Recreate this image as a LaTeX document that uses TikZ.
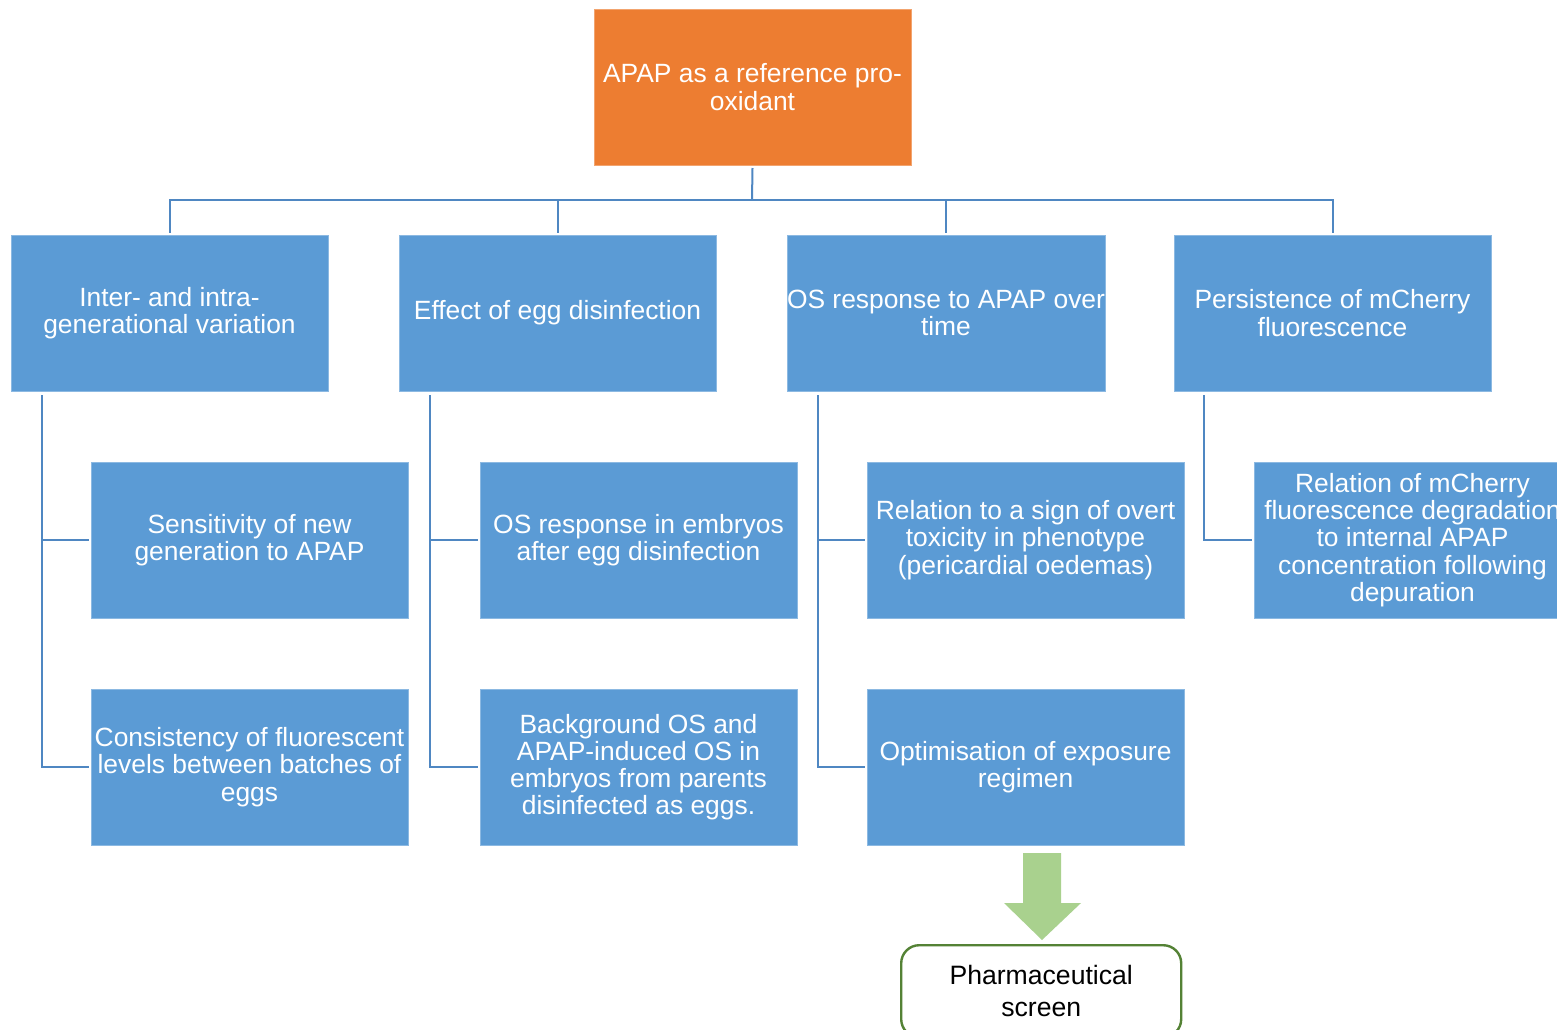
\documentclass[tikz,border=0pt]{standalone}
\usepackage{fontspec}
\setmainfont{Liberation Sans}
\definecolor{boxblue}{HTML}{5B9BD5}
\definecolor{linkblue}{HTML}{4F87C2}
\definecolor{topor}{HTML}{ED7D31}
\definecolor{arrgreen}{HTML}{A9D18E}
\definecolor{bordgreen}{HTML}{548235}
\tikzset{
  box/.style={fill=boxblue, draw=boxblue!70!white, line width=0.4pt, text=white, anchor=north west,
    minimum width=158.5pt, minimum height=78pt, inner sep=0pt, outer sep=0pt, align=center,
    font=\fontsize{13.2pt}{13.6pt}\selectfont},
  conn/.style={draw=linkblue, line width=1pt},
}
\begin{document}
\begin{tikzpicture}[x=0.5pt,y=-0.5pt]
\useasboundingbox (0,0) rectangle (1557,1029);
\clip (0,0) rectangle (1557,1029);
\fill[white] (0,0) rectangle (1557,1029);
% top
\node[box, fill=topor, draw=topor!70!white] (top) at (594,9) {APAP as a reference pro-\\oxidant};
% level 1
\node[box] (a1) at (11,235) {Inter- and intra-\\generational variation};
\node[box] (b1) at (399,235) {Effect of egg disinfection};
\node[box] (c1) at (787,235) {OS response to APAP over\\time};
\node[box] (d1) at (1174,235) {Persistence of mCherry\\fluorescence};
% level 2
\node[box] (a2) at (91,462) {Sensitivity of new\\generation to APAP};
\node[box] (b2) at (480,462) {OS response in embryos\\after egg disinfection};
\node[box] (c2) at (867,462) {Relation to a sign of overt\\toxicity in phenotype\\(pericardial oedemas)};
\node[box] (d2) at (1254,462) {Relation of mCherry\\fluorescence degradation\\to internal APAP\\concentration following\\depuration};
% level 3
\node[box] (a3) at (91,689) {Consistency of fluorescent\\levels between batches of\\eggs};
\node[box] (b3) at (480,689) {Background OS and\\APAP-induced OS in\\embryos from parents\\disinfected as eggs.};
\node[box] (c3) at (867,689) {Optimisation of exposure\\regimen};
% pharmaceutical screen
\node[draw=bordgreen, line width=1.2pt, rounded corners=9pt, fill=white, anchor=north west,
  minimum width=140pt, minimum height=46pt, inner sep=0pt, align=center,
  font=\fontsize{13.3pt}{16pt}\selectfont] (ps) at (900,944) {Pharmaceutical\\screen};
% connectors from top
\coordinate (hub) at (752,200);
\draw[conn] ([yshift=-1.5pt]top.south) -- (hub);
\foreach \n in {a1,b1,c1,d1}{
  \draw[conn] (hub) -| ([yshift=1pt]\n.north);
}
% branches
\foreach \p/\q/\r in {a1/a2/a3,b1/b2/b3,c1/c2/c3}{
  \coordinate (\p b) at ([xshift=15.5pt,yshift=-2pt]\p.south west);
  \draw[conn] (\p b) |- ([xshift=-1pt]\q.west);
  \draw[conn] (\p b) |- ([xshift=-1pt]\r.west);
}
\coordinate (d1b) at ([xshift=15pt,yshift=-2pt]d1.south west);
\draw[conn] (d1b) |- ([xshift=-1pt]d2.west);
% block arrow
\fill[arrgreen] (1023,853) -- (1061,853) -- (1061,903) -- (1081,903) -- (1042,940) -- (1004,903) -- (1023,903) -- cycle;
\end{tikzpicture}
\end{document}
